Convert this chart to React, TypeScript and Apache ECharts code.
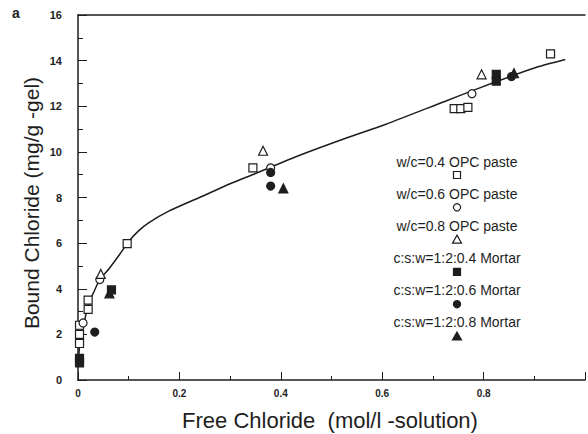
import React, { useEffect, useRef } from "react";
import * as echarts from "echarts";

// Fitted curve
const curveX = [0.001, 0.004, 0.008, 0.013, 0.02, 0.03, 0.043, 0.062, 0.082, 0.101, 0.12, 0.14, 0.179, 0.25, 0.3, 0.35, 0.431, 0.528, 0.606, 0.722, 0.786, 0.852, 0.903, 0.961];
const curveY = [0.9, 1.7, 2.2, 2.6, 3.3, 3.8, 4.4, 4.9, 5.5, 6.1, 6.55, 6.9, 7.4, 8.1, 8.6, 9.05, 9.8, 10.6, 11.2, 12.2, 12.75, 13.3, 13.7, 14.05];

// Series points [free chloride, bound chloride]
const opc04: number[][] = [[0.097, 5.98], [0.02, 3.5], [0.02, 3.1], [0.003, 2.4], [0.003, 2.0], [0.003, 1.6], [0.345, 9.3], [0.742, 11.9], [0.755, 11.9], [0.769, 11.95], [0.932, 14.3]];
const opc06: number[][] = [[0.043, 4.4], [0.01, 2.5], [0.777, 12.55], [0.38, 9.3]];
const opc08: number[][] = [[0.045, 4.65], [0.365, 10.05], [0.796, 13.4]];
const mortar04: number[][] = [[0.825, 13.4], [0.825, 13.1], [0.003, 0.95], [0.003, 0.75], [0.066, 3.95]];
const mortar06: number[][] = [[0.033, 2.1], [0.38, 8.5], [0.38, 9.1], [0.855, 13.3]];
const mortar08: number[][] = [[0.062, 3.8], [0.405, 8.4], [0.86, 13.45]];

const seriesNames = [
  "w/c=0.4 OPC paste",
  "w/c=0.6 OPC paste",
  "w/c=0.8 OPC paste",
  "c:s:w=1:2:0.4 Mortar",
  "c:s:w=1:2:0.6 Mortar",
  "c:s:w=1:2:0.8 Mortar",
];
const seriesData = [opc04, opc06, opc08, mortar04, mortar06, mortar08];
const seriesSymbols = ["rect", "circle", "triangle", "rect", "circle", "triangle"];
const seriesFilled = [false, false, false, true, true, true];

const xTicks = [0, 0.2, 0.4, 0.6, 0.8];
const yTicks = [0, 2, 4, 6, 8, 10, 12, 14, 16];

const INK = "#1e1e1e";
const FONT = "'Liberation Sans', Arial, sans-serif";

export default function App() {
  const ref = useRef<HTMLDivElement>(null);
  useEffect(() => {
    document.body.style.margin = "0";
    if (!ref.current) return;
    const chart = echarts.init(ref.current, null, { renderer: "svg" });

    const legendGraphics: any[] = [];
    seriesNames.forEach((name, i) => {
      const ty = 162 + i * 32;
      const sy = 175 + i * 32.3;
      const cx = 457;
      legendGraphics.push({
        type: "text",
        x: cx,
        y: ty,
        style: {
          text: name,
          font: `14px ${FONT}`,
          fill: INK,
          textAlign: "center",
          textVerticalAlign: "middle",
        },
      });
      const fill = seriesFilled[i] ? INK : "#fff";
      const st = { fill, stroke: INK, lineWidth: 1.2 };
      if (seriesSymbols[i] === "rect") {
        legendGraphics.push({ type: "rect", shape: { x: cx - 3.5, y: sy - 3.5, width: 7, height: 7 }, style: st });
      } else if (seriesSymbols[i] === "circle") {
        legendGraphics.push({ type: "circle", shape: { cx, cy: sy, r: 3.6 }, style: st });
      } else {
        legendGraphics.push({
          type: "polygon",
          shape: { points: [[cx, sy - 4.5], [cx + 4.5, sy + 3.5], [cx - 4.5, sy + 3.5]] },
          style: st,
        });
      }
    });

    const curve = curveX.map((x, i) => [x, curveY[i]]);

    chart.setOption({
      animation: false,
      backgroundColor: "#fff",
      grid: { left: 78, top: 15, width: 515, height: 365, containLabel: false },
      xAxis: [
        {
          type: "value",
          min: 0,
          max: 1,
          interval: 0.2,
          axisLine: { show: true, lineStyle: { color: INK, width: 1.5 } },
          axisTick: { show: true, inside: true, length: 8, lineStyle: { color: INK } },
          minorTick: { show: true, splitNumber: 2, length: 4, lineStyle: { color: INK } },
          splitLine: { show: false },
          axisLabel: {
            color: INK,
            fontSize: 10,
            fontWeight: "bold",
            fontFamily: FONT,
            margin: 8,
            formatter: (v: number) => {
              const t = xTicks.find((k) => Math.abs(k - v) < 1e-6);
              if (t === undefined) return "";
              return t === 0 ? "0" : t.toFixed(1);
            },
          },
        },
        {
          type: "value",
          position: "top",
          min: 0,
          max: 1,
          axisLine: { show: true, onZero: false, lineStyle: { color: INK, width: 1.5 } },
          axisTick: { show: false },
          axisLabel: { show: false },
          splitLine: { show: false },
        },
      ],
      yAxis: {
        type: "value",
        min: 0,
        max: 16,
        interval: 2,
        axisLine: { show: true, lineStyle: { color: INK, width: 1.5 } },
        axisTick: { show: true, inside: true, length: 9, lineStyle: { color: INK } },
        minorTick: { show: true, splitNumber: 2, length: 5, lineStyle: { color: INK } },
        splitLine: { show: false },
        axisLabel: {
          color: INK,
          fontSize: 11,
          fontWeight: "bold",
          fontFamily: FONT,
          margin: 16,
          formatter: (v: number) => (yTicks.includes(v) ? String(v) : ""),
        },
      },
      series: [
        {
          type: "line",
          data: curve,
          smooth: 0.25,
          showSymbol: false,
          lineStyle: { color: INK, width: 1.5 },
          z: 1,
        },
        ...seriesNames.map((name, i) => ({
          type: "scatter",
          name,
          data: seriesData[i],
          symbol: seriesSymbols[i],
          symbolSize: seriesSymbols[i] === "triangle" ? 9 : 8,
          itemStyle: {
            color: seriesFilled[i] ? INK : "#fff",
            borderColor: INK,
            borderWidth: 1.2,
            opacity: 1,
          },
          z: 3,
        })),
      ],
      graphic: [
        {
          type: "text",
          x: 12,
          y: 6,
          style: { text: "a", font: `bold 14px ${FONT}`, fill: INK },
        },
        {
          type: "text",
          x: 31,
          y: 203,
          rotation: Math.PI / 2,
          style: {
            text: "Bound Chloride (mg/g -gel)",
            font: `21px ${FONT}`,
            fill: INK,
            textAlign: "center",
            textVerticalAlign: "middle",
          },
        },
        {
          type: "text",
          x: 330,
          y: 420,
          style: {
            text: "Free Chloride  (mol/l -solution)",
            font: `22px ${FONT}`,
            fill: INK,
            textAlign: "center",
            textVerticalAlign: "middle",
          },
        },
        ...legendGraphics,
      ],
    });
    return () => chart.dispose();
  }, []);
  return <div ref={ref} style={{ width: 588, height: 434 }} />;
}
